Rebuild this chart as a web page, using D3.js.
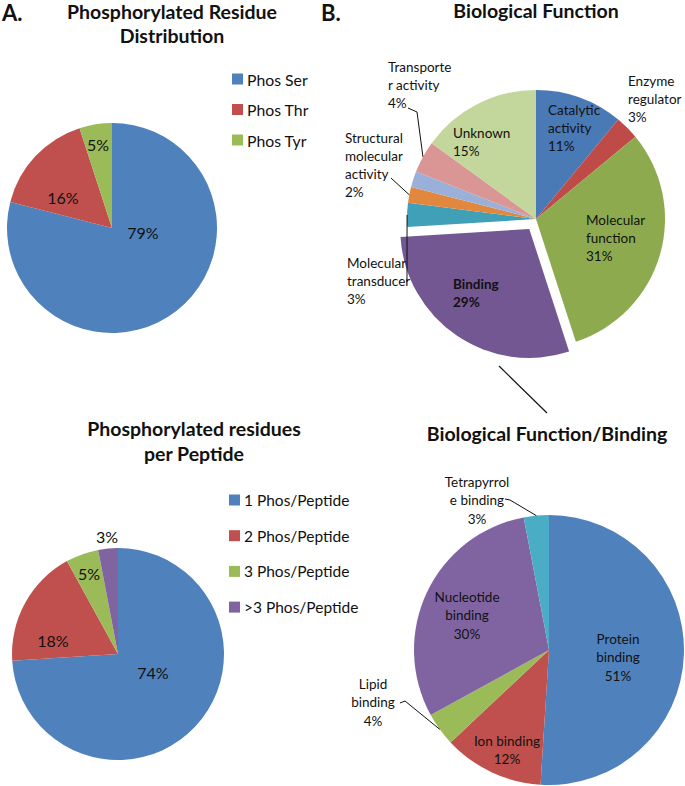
<!DOCTYPE html>
<html><head><meta charset="utf-8">
<script src="https://cdn.jsdelivr.net/npm/d3@7"></script>
<style>
html,body{margin:0;padding:0;background:#fff;}
svg text{font-family:Lato,"Open Sans",sans-serif;}
</style></head>
<body>
<svg id="c" width="685" height="786"></svg>
<script>
// ---------- DATA ----------
const residueCategories = ["Phos Ser", "Phos Thr", "Phos Tyr"];
const residueValues = [79, 16, 5];

const peptideCategories = ["1 Phos/Peptide", "2 Phos/Peptide", "3 Phos/Peptide", ">3 Phos/Peptide"];
const peptideValues = [74, 18, 5, 3];

const functionCategories = ["Catalytic activity", "Enzyme regulator", "Molecular function", "Binding",
  "Molecular transducer", "Structural molecular activity", "Other", "Transporter activity", "Unknown"];
const functionValues = [11, 3, 31, 29, 3, 2, 2, 4, 15];
const functionLabels = [["Catalytic","activity","11%"], ["Enzyme","regulator","3%"], ["Molecular","function","31%"],
  ["Binding","29%"], ["Molecular","transducer","3%"], ["Structural","molecular","activity","2%"], null,
  ["Transporte","r activity","4%"], ["Unknown","15%"]];

const bindingCategories = ["Protein binding", "Ion binding", "Lipid binding", "Nucleotide binding", "Tetrapyrrole binding"];
const bindingValues = [51, 12, 4, 30, 3];
const bindingLabels = [["Protein","binding","51%"], ["Ion binding","12%"], ["Lipid","binding","4%"],
  ["Nucleotide","binding","30%"], ["Tetrapyrrol","e binding","3%"]];

// ---------- STYLE / LAYOUT ----------
const residueColors = ["#4F81BD", "#C0504D", "#9BBB59"];
const peptideColors = ["#4F81BD", "#C0504D", "#9BBB59", "#8064A2"];
const functionColors = ["#4A7AB6", "#BE4B48", "#8DAB4E", "#725792", "#3FA0B7", "#E2883E", "#9BB0D8", "#D99694", "#C3D69B"];
const bindingColors = ["#4F81BD", "#C0504D", "#9BBB59", "#8064A2", "#4BACC6"];

const svg = d3.select("#c");
const pie = d3.pie().sort(null).value(d => d);

function title(lines, cx, cy, size, gap) {
  lines.forEach((t, i) => svg.append("text").attr("x", cx).attr("y", cy + i * gap)
    .attr("text-anchor", "middle").attr("dominant-baseline", "central")
    .attr("font-size", size).attr("font-weight", "bold").attr("fill", "#111").text(t));
}

function drawPie(values, colors, cx, cy, r, opts = {}) {
  const g = svg.append("g").attr("transform", `translate(${cx},${cy})`);
  const arc = d3.arc().innerRadius(0).outerRadius(r);
  const arcs = pie(values);
  g.selectAll("path").data(arcs).join("path")
    .attr("d", arc)
    .attr("fill", (d, i) => colors[i])
    .attr("transform", (d, i) => {
      if (opts.explode === i) {
        const a = (d.startAngle + d.endAngle) / 2;
        return `translate(${Math.sin(a) * opts.offset},${-Math.cos(a) * opts.offset})`;
      }
      return null;
    });
  return {g, arcs, arc, r};
}

function outerPoint(p, i) {
  const d = p.arcs[i];
  const a = (d.startAngle + d.endAngle) / 2;
  return [Math.sin(a) * p.r, -Math.cos(a) * p.r];
}

function labelBlock(g, lines, x, y, anchor, size, gap, bold) {
  lines.forEach((t, k) => g.append("text").attr("x", x).attr("y", y + k * gap)
    .attr("text-anchor", anchor).attr("dominant-baseline", "central")
    .attr("font-size", size).attr("font-weight", bold ? "bold" : "normal")
    .attr("fill", "#111").text(t));
}

function legend(cats, colors, x, y0, gap, size) {
  cats.forEach((c, i) => {
    const y = y0 + i * gap;
    svg.append("rect").attr("x", x).attr("y", y - 5.5).attr("width", 11).attr("height", 11).attr("fill", colors[i]);
    svg.append("text").attr("x", x + 15).attr("y", y).attr("dominant-baseline", "central")
      .attr("font-size", size).attr("fill", "#111").text(c);
  });
}

// panel letters
svg.append("text").attr("x", 2).attr("y", 12).attr("dominant-baseline", "central")
  .attr("font-size", 22).attr("font-weight", "bold").attr("fill", "#111").text("A.");
svg.append("text").attr("x", 321).attr("y", 12).attr("dominant-baseline", "central")
  .attr("font-size", 22).attr("font-weight", "bold").attr("fill", "#111").text("B.");

// ---------- A: residue distribution ----------
title(["Phosphorylated Residue", "Distribution"], 172, 11, 19.5, 24);
const pA = drawPie(residueValues, residueColors, 112, 228, 105);
const posA = [[31, 4], [-49, -31], [-14, -84]];
residueValues.forEach((v, i) => labelBlock(pA.g, [v + "%"], posA[i][0], posA[i][1], "middle", 16, 0));
legend(residueCategories, residueColors, 232, 79, 30.5, 15.8);

// ---------- C: residues per peptide ----------
title(["Phosphorylated residues", "per Peptide"], 194, 428, 19.5, 25);
const pC = drawPie(peptideValues, peptideColors, 118, 654, 106);
const posC = [[35, 18], [-65, -14], [-29, -81], [-11, -118]];
peptideValues.forEach((v, i) => labelBlock(pC.g, [v + "%"], posC[i][0], posC[i][1], "middle", 16, 0));
legend(peptideCategories, peptideColors, 229, 500, 35.7, 15.5);

// ---------- B: biological function ----------
title(["Biological Function"], 536, 10, 19.5, 0);
const pB = drawPie(functionValues, functionColors, 536, 219, 129, {explode: 3, offset: 12});
const posB = [[12, -109], [92, -138], [50, 1], [-83, 65], [-189, 44], [-191, -81], null, [-148, -152], [-83, -86]];
functionLabels.forEach((lines, i) => {
  if (!lines) return;
  labelBlock(pB.g, lines, posB[i][0], posB[i][1], "start", 13.5, 18, i === 3);
});
// leader lines (B)
const leaderB = {
  4: [[-129, 63]],
  5: [[-145, -41]],
  7: [[-128, -111], [-119, -107]]
};
Object.entries(leaderB).forEach(([i, pts]) => {
  const end = outerPoint(pB, +i);
  pB.g.append("path").attr("d", d3.line()([...pts, end])).attr("fill", "none")
    .attr("stroke", "#111").attr("stroke-width", 1);
});
// connector to binding breakdown
svg.append("line").attr("x1", 499).attr("y1", 366).attr("x2", 547).attr("y2", 413)
  .attr("stroke", "#111").attr("stroke-width", 1.2);

// ---------- D: binding breakdown ----------
title(["Biological Function/Binding"], 547, 433, 19.5, 0);
const pD = drawPie(bindingValues, bindingColors, 549, 650, 135);
const posD = [[69, -11], [-42, 91], [-176, 34], [-82, -53], [-72, -168]];
bindingLabels.forEach((lines, i) => labelBlock(pD.g, lines, posD[i][0], posD[i][1], "middle", 13.5, 18.3, false));
const leaderD = {
  2: [[-149, 53], [-144, 51]],
  4: [[-44, -151], [-39, -150]]
};
Object.entries(leaderD).forEach(([i, pts]) => {
  const end = outerPoint(pD, +i);
  pD.g.append("path").attr("d", d3.line()([...pts, end])).attr("fill", "none")
    .attr("stroke", "#111").attr("stroke-width", 1);
});
</script>
</body></html>
